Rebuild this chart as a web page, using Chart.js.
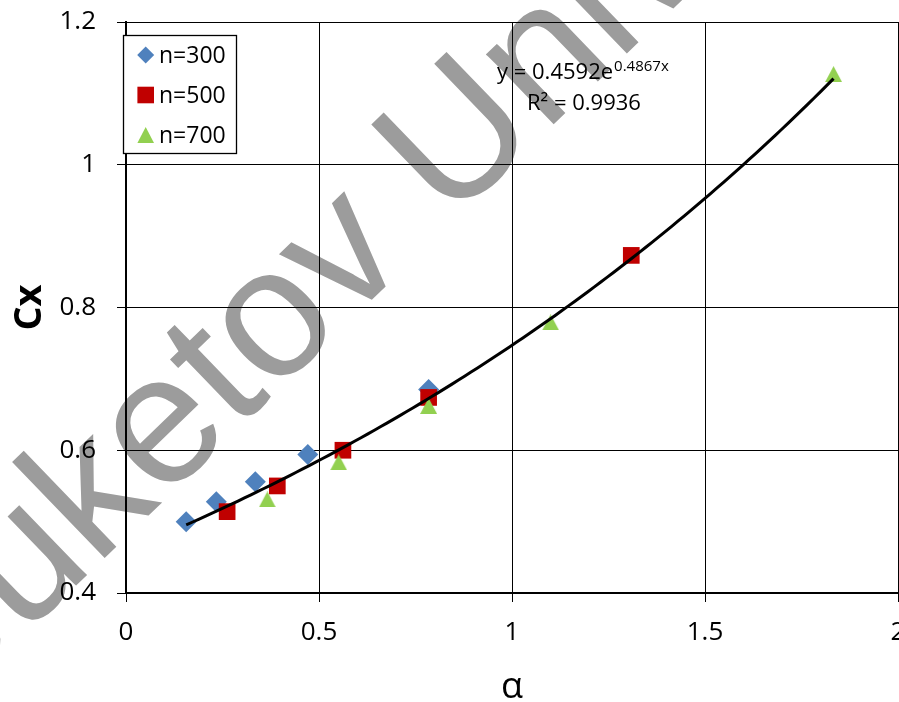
<!DOCTYPE html>
<html><head><meta charset="utf-8">
<script src="https://cdn.jsdelivr.net/npm/chart.js@4/dist/chart.umd.min.js"></script>
<style>html,body{margin:0;padding:0;background:#fff;overflow:hidden}canvas{display:block}</style>
</head><body>
<canvas id="c" width="899" height="702"></canvas>
<script>
// ---- data ----
const seriesNames = ['n=300', 'n=500', 'n=700'];
const n300X = [0.156, 0.234, 0.335, 0.471, 0.784];
const n300Y = [0.500, 0.528, 0.556, 0.594, 0.685];
const n500X = [0.262, 0.392, 0.562, 0.784, 1.309];
const n500Y = [0.514, 0.550, 0.600, 0.674, 0.873];
const n700X = [0.366, 0.551, 0.784, 1.100, 1.833];
const n700Y = [0.531, 0.583, 0.662, 0.779, 1.127];
const trendCoef = [0.4592, 0.4867];   // exponential trendline y = a·e^(b·x), as printed on the chart
const trendR2 = '0.9936';
const xRange = [0, 2], xStep = 0.5;
const yRange = [0.4, 1.2], yStep = 0.2;
const xTitle = 'α', yTitle = 'Cx';
const watermarkText = 'Buketov University';

const FF = '"Open Sans", sans-serif';
const colors = ['#4F81BD', '#C00000', '#92D050'];

function zip(xs, ys) { return xs.map((x, i) => ({x: x, y: ys[i]})); }

// trendline drawn from the printed equation over the data's x span
const allX = n300X.concat(n500X, n700X);
const tMin = Math.min(...allX), tMax = Math.max(...allX);
const trendPts = [];
for (let i = 0; i <= 100; i++) {
  const x = tMin + (tMax - tMin) * i / 100;
  trendPts.push({x: x, y: trendCoef[0] * Math.exp(trendCoef[1] * x)});
}

function triCanvas(w, h, color) {
  const c = document.createElement('canvas'); c.width = w; c.height = h;
  const g = c.getContext('2d'); g.fillStyle = color;
  g.beginPath(); g.moveTo(w / 2, 0); g.lineTo(w, h); g.lineTo(0, h); g.closePath(); g.fill();
  return c;
}

const bgPlugin = {
  id: 'bg',
  beforeDraw(chart) {
    const ctx = chart.ctx;
    ctx.save();
    ctx.fillStyle = '#fff';
    ctx.fillRect(0, 0, chart.width, chart.height);
    // watermark (anchored on the centre of the "o")
    const size = 184;
    ctx.font = size + 'px "Liberation Sans", Arial, sans-serif';
    ctx.fillStyle = '#9c9c9c';
    ctx.textBaseline = 'alphabetic';
    const a = -44 * Math.PI / 180;
    const wPre = ctx.measureText('Buket').width;
    const wO = ctx.measureText('o').width;
    const lx = wPre + wO / 2, ly = -0.519 * size / 2;
    const tx = 276, ty = 326;
    const ox = tx - (lx * Math.cos(a) - ly * Math.sin(a));
    const oy = ty - (lx * Math.sin(a) + ly * Math.cos(a));
    ctx.translate(ox, oy);
    ctx.rotate(a);
    ctx.fillText(watermarkText, 0, 0);
    ctx.restore();
  }
};

function drawMarker(ctx, kind, x, y, color) {
  ctx.fillStyle = color;
  ctx.beginPath();
  if (kind === 0) { const r = 8.5; ctx.moveTo(x, y - r); ctx.lineTo(x + r, y); ctx.lineTo(x, y + r); ctx.lineTo(x - r, y); }
  else if (kind === 1) { const s = 8.3; ctx.rect(x - s, y - s, 2 * s, 2 * s); }
  else { ctx.moveTo(x, y - 8); ctx.lineTo(x + 8.3, y + 8); ctx.lineTo(x - 8.3, y + 8); }
  ctx.closePath(); ctx.fill();
}

const overlayPlugin = {
  id: 'overlay',
  afterDraw(chart) {
    const ctx = chart.ctx;
    ctx.save();
    // legend box
    ctx.fillStyle = '#fff';
    ctx.fillRect(123.5, 35.5, 113, 118);
    ctx.strokeStyle = '#000'; ctx.lineWidth = 1.3;
    ctx.strokeRect(123.5, 35.5, 113, 118);
    const rows = [55, 95, 135];
    ctx.font = '23px ' + FF; ctx.textBaseline = 'middle'; ctx.textAlign = 'left';
    seriesNames.forEach((nm, i) => {
      drawMarker(ctx, i, 145.7, rows[i], colors[i]);
      ctx.fillStyle = '#000';
      ctx.fillText(nm, 159, rows[i] + 1);
    });
    // trendline equation
    ctx.textBaseline = 'alphabetic';
    ctx.fillStyle = '#000';
    ctx.font = '22px ' + FF;
    const main = 'y = ' + trendCoef[0] + 'e';
    ctx.fillText(main, 497, 79);
    const w = ctx.measureText(main).width;
    ctx.font = '15px ' + FF;
    ctx.fillText(trendCoef[1] + 'x', 497 + w + 1, 71);
    ctx.font = '22px ' + FF;
    ctx.fillText('R² = ' + trendR2, 527, 110);
    ctx.restore();
  }
};

const fmt = v => String(Number(v.toFixed(2)));

new Chart(document.getElementById('c'), {
  type: 'scatter',
  data: {
    datasets: [
      {label: 'trend', type: 'line', data: trendPts, borderColor: '#000', borderWidth: 3, pointRadius: 0, fill: false, tension: 0, order: 0},
      {label: seriesNames[2], data: zip(n700X, n700Y), pointStyle: triCanvas(17, 16, colors[2]), pointRadius: 9, order: 1},
      {label: seriesNames[1], data: zip(n500X, n500Y), pointStyle: 'rect', pointRadius: 11.8, backgroundColor: colors[1], borderColor: colors[1], borderWidth: 0, order: 2},
      {label: seriesNames[0], data: zip(n300X, n300Y), pointStyle: 'rectRot', pointRadius: 10.5, backgroundColor: colors[0], borderColor: colors[0], borderWidth: 0, order: 3}
    ]
  },
  options: {
    responsive: false,
    devicePixelRatio: 1,
    animation: false,
    layout: {autoPadding: false, padding: {top: 22, right: 1, left: 0, bottom: 0}},
    plugins: {legend: {display: false}, tooltip: {enabled: false}},
    scales: {
      x: {
        type: 'linear', min: xRange[0], max: xRange[1],
        ticks: {stepSize: xStep, color: '#000', font: {family: FF, size: 26}, padding: 15, maxRotation: 0, callback: fmt},
        grid: {color: '#000', lineWidth: 1, tickLength: 9, drawTicks: true},
        border: {color: '#000', width: 2},
        title: {display: true, text: xTitle, color: '#000', font: {family: FF, size: 36, lineHeight: 0.8}, padding: 0},
        afterFit(s) { s.height = 109; s.paddingLeft = 0; s.paddingRight = 0; s.paddingTop = 0; s.paddingBottom = 0; }
      },
      y: {
        type: 'linear', min: yRange[0], max: yRange[1],
        ticks: {stepSize: yStep, color: '#000', font: {family: FF, size: 26}, padding: 21, callback: fmt},
        grid: {color: '#000', lineWidth: 1, tickLength: 9, drawTicks: true},
        border: {color: '#000', width: 2},
        title: {display: true, text: yTitle, color: '#000', font: {family: FF, size: 38, weight: 'bold', lineHeight: 1}, padding: {top: 11, bottom: 0}},
        afterFit(s) { s.width = 126; s.paddingLeft = 0; s.paddingRight = 0; s.paddingTop = 0; s.paddingBottom = 0; }
      }
    }
  },
  plugins: [bgPlugin, overlayPlugin]
});
</script>
</body></html>
